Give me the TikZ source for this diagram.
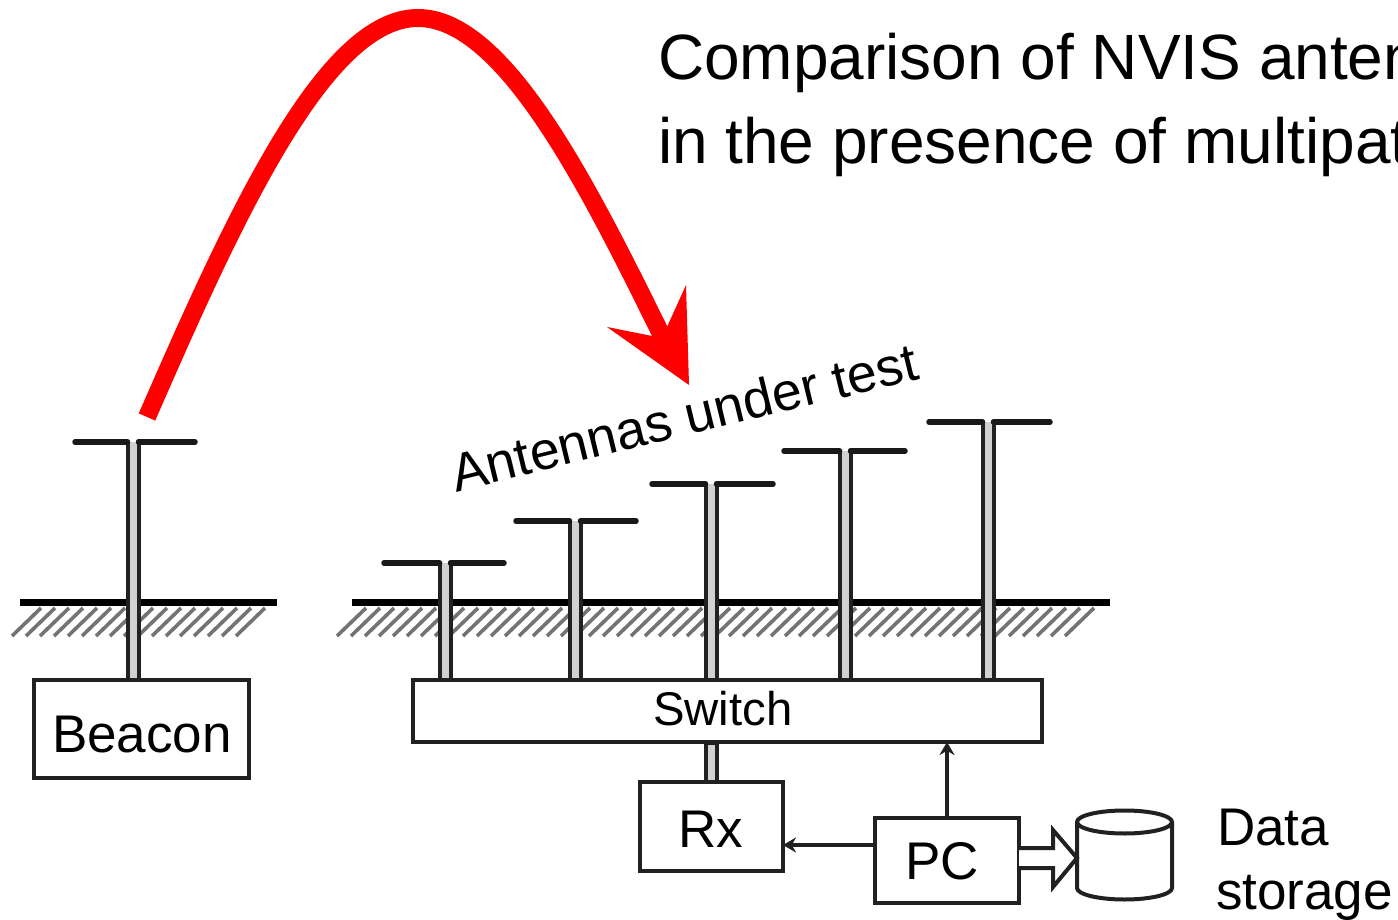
\documentclass[tikz,border=0pt]{standalone}
\usepackage{fontspec}
\setmainfont{Liberation Sans}
\usetikzlibrary{arrows.meta,calc}
\definecolor{ink}{gray}{0.13}
\newcommand{\fs}[1]{\fontsize{#1}{#1}\selectfont}
\tikzset{
  x=1pt,y=-1pt,
  boxnode/.style={draw=ink,line width=3.5pt,fill=white,inner sep=0pt,outer sep=0pt},
  lbl/.style={inner sep=0pt,outer sep=0pt,anchor=base west,text=black},
  ground/.style={line width=7pt,black},
  hatch/.style={line width=3.6pt,black!55},
  mast/.style={line width=4pt,ink},
  arm/.style={line width=5.5pt,black!90,line cap=round},
  sig/.style={line width=3.5pt,ink,-{Stealth[length=13pt,width=15pt]}},
  radio/.style={line width=18pt,red},
}
\newcommand{\antenna}[5]{% centre, top, left, right, bottom
  \fill[black!18] (#1-5.5,#2) rectangle (#1+5.5,#5);
  \draw[mast] (#1-5.5,#5) -- (#1-5.5,#2);
  \draw[mast] (#1+5.5,#5) -- (#1+5.5,#2);
  \draw[arm] (#3,#2) -- (#1-5.5,#2);
  \draw[arm] (#1+5.5,#2) -- (#4,#2);
}
\begin{document}
\begin{tikzpicture}
\useasboundingbox (0,0) rectangle (1398,920);
\clip (0,0) rectangle (1398,920);
\fill[white] (0,0) rectangle (1398,920);

% ground
\foreach \xx in {12,26,...,236} \draw[hatch] (\xx,636) -- (\xx+29,608);
\foreach \xx in {337,351,...,1075} \draw[hatch] (\xx,636) -- (\xx+29,608);
\draw[ground] (20,602) -- (277,602);
\draw[ground] (352,602) -- (1110,602);

% antennas
\antenna{133}{442}{75}{195}{680}
\antenna{445}{563}{384}{504}{680}
\antenna{575}{521}{516}{636}{680}
\antenna{711}{484}{652}{773}{680}
\antenna{845}{451}{784}{905}{680}
\antenna{988}{422}{929}{1050}{680}
\antenna{711}{742}{711}{711}{782}

% boxes
\node[boxnode,minimum width=215pt,minimum height=98pt] (beacon) at (141.5,729) {};
\node[boxnode,minimum width=629pt,minimum height=62pt] (switch) at (727.5,711) {};
\node[boxnode,minimum width=143pt,minimum height=89pt] (rx) at (711.5,826.5) {};
\node[boxnode,minimum width=144pt,minimum height=85pt] (pc) at (947,860.5) {};

\node[lbl,font=\fs{53}] (tbeacon) at (52,752) {Beacon};
\node[lbl,font=\fs{47.3}] (tswitch) at (653,725) {Switch};
\node[lbl,font=\fs{53}] (trx) at (678,847) {Rx};
\node[lbl,font=\fs{53}] (tpc) at (905,879) {PC};

% control lines
\draw[sig] (pc.north) -- (pc.north |- switch.south);
\coordinate (pcrx) at (pc.west |- 0,845);
\draw[sig] (pcrx) -- (pcrx -| rx.east);

% storage cylinder
\coordinate (store) at (1077,858);
\draw[line width=4pt,ink,fill=white] (1077,822) arc[start angle=180,end angle=360,x radius=47.5,y radius=11.5] -- (1172,888) arc[start angle=0,end angle=180,x radius=47.5,y radius=11.5] -- cycle;
\draw[line width=4pt,ink] (1077,822) arc[start angle=180,end angle=0,x radius=47.5,y radius=11.5];

% hollow arrow
\coordinate (ha) at (pc.east |- 0,848);
\coordinate (hb) at (pc.east |- 0,868);
\draw[line width=4pt,ink,fill=white,line join=miter] (ha) -- (1053,848) -- (1053,830) -- (store) -- (1053,887) -- (1053,868) -- (hb);

% labels
\node[lbl,font=\fs{53}] (tdata) at (1217,845) {Data};
\node[lbl,font=\fs{53}] (tstore) at (1216,909) {storage};
\node[lbl,font=\fs{53.5},rotate=13.7] (taut) at (456,492) {Antennas under test};
\node[lbl,font=\fs{64}] (t1) at (658,80) {Comparison of NVIS antennas};
\node[lbl,font=\fs{64}] (t2) at (658,164) {in the presence of multipath};

% red path
\coordinate (rs) at (147,417);
\coordinate (rp) at (418,18);
\coordinate (re) at (662,336);
\coordinate (rt) at (689,385);
\draw[radio] (rs) .. controls (235,215) and (325,18) .. (rp) .. controls (505,18) and (590,190) .. (re);
\fill[red] (rt) -- (686,285) -- (667,327) -- (652,336) -- (607,327) -- cycle;
\end{tikzpicture}
\end{document}
